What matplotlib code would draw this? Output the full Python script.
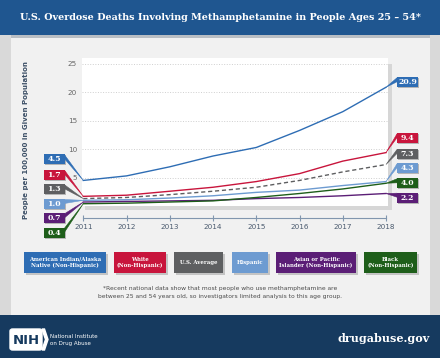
import matplotlib
matplotlib.use("Agg")
import matplotlib.pyplot as plt
from matplotlib.patches import Rectangle, Polygon, FancyBboxPatch

years = [2011, 2012, 2013, 2014, 2015, 2016, 2017, 2018]
aian = [4.5, 5.3, 6.9, 8.8, 10.3, 13.3, 16.6, 20.9]
white = [1.7, 1.9, 2.6, 3.3, 4.3, 5.7, 7.9, 9.4]
us_avg = [1.3, 1.5, 2.0, 2.6, 3.3, 4.5, 6.0, 7.3]
hispanic = [1.0, 1.1, 1.4, 1.8, 2.4, 2.8, 3.6, 4.3]
asian = [0.7, 0.8, 0.9, 1.0, 1.3, 1.5, 1.8, 2.2]
black = [0.4, 0.5, 0.7, 0.9, 1.5, 2.2, 3.0, 4.0]

names = ["American Indian/Alaska\nNative (Non-Hispanic)", "White\n(Non-Hispanic)", "U.S. Average",
         "Hispanic", "Asian or Pacific\nIslander (Non-Hispanic)", "Black\n(Non-Hispanic)"]
series = [aian, white, us_avg, hispanic, asian, black]
colors = ["#2e6db4", "#c8153c", "#5e5f61", "#6d9bd1", "#5b1e76", "#1e5e1a"]

W, H = 440, 358
fig = plt.figure(figsize=(W / 100, H / 100), dpi=100)


def rect(x0, y0, x1, y1, color, z=-2):
    fig.patches.append(Rectangle((x0 / W, 1 - y1 / H), (x1 - x0) / W, (y1 - y0) / H,
                                 transform=fig.transFigure, color=color, zorder=z, lw=0))


def text(x, y, s, **kw):
    fig.text(x / W, 1 - y / H, s, zorder=5, **kw)


# background pieces
rect(0, 0, W, H, "#d9d9d9", -3)
rect(11, 35, 430, 315, "#f1f1f1")
rect(11, 35, 430, 37.5, "#b9bec4")
rect(0, 0, W, 35, "#1f5690")
rect(0, 315, W, H, "#163a5f")
rect(85, 64, 392, 210, "#d6d6d6", -1)

text(220, 17, "U.S. Overdose Deaths Involving Methamphetamine in People Ages 25 \u2013 54*",
     color="white", fontsize=6.9, family="DejaVu Serif", weight="bold", ha="center", va="center")

# main plot
ax = fig.add_axes([82 / W, 1 - 206 / H, (388 - 82) / W, (206 - 58) / H])
ax.set_facecolor("white")
for i, vals in enumerate(series):
    if i == 2:
        ax.plot(years, vals, color=colors[i], lw=1.0, ls="--", dashes=(3, 2), clip_on=False, zorder=3)
    else:
        ax.plot(years, vals, color=colors[i], lw=1.0, clip_on=False, zorder=3)
ax.set_xlim(2011 - 1.3 / 43.24, 2018 + 2 / 43.24)
ax.set_ylim(0, 26.05)
ax.set_yticks([5, 10, 15, 20, 25])
ax.set_xticks(years)
ax.grid(axis="y", color="#cfcfcf", ls=":", lw=0.7)
for s in ["left", "top", "right"]:
    ax.spines[s].set_visible(False)
ax.spines["bottom"].set_position(("outward", 12 * 0.72))
ax.spines["bottom"].set_bounds(2011, 2018)
ax.spines["bottom"].set_color("#8196ae")
ax.tick_params(axis="x", direction="inout", length=5, width=0.8, color="#8196ae",
               labelsize=5.2, labelcolor="#4a5a6e", pad=1.5)
ax.tick_params(axis="y", length=0, labelsize=5.2, labelcolor="#666666", pad=3.6)

text(26, 140, "People per 100,000 in Given Population", rotation=90, fontsize=5, color="#3c4f66",
     weight="bold", ha="center", va="center")

# value call-outs
fig.canvas.draw()
left_y = [159.3, 174.7, 189.3, 204, 218.3, 232.7]
right_y = [82.3, 138.3, 154, 168.3, 197.7, 183.3]
bw, bh = 21, 10
for i, vals in enumerate(series):
    for side, yc, idx in [("l", left_y[i], 0), ("r", right_y[i], -1)]:
        px, py = ax.transData.transform((years[idx], vals[idx]))
        py = H - py
        if side == "l":
            x0, edge = 43.5, 43.5 + bw
        else:
            x0, edge = 397, 397
        y0 = yc - bh / 2
        rect(x0 + 1, y0 + 1, x0 + bw + 1, y0 + bh + 1, "#b5b5b5", 2)
        tail = Polygon([(edge / W, 1 - (y0 + 0.5) / H), (edge / W, 1 - (y0 + bh * 0.45) / H),
                        (px / W, 1 - py / H)], closed=True, transform=fig.transFigure,
                       color=colors[i], lw=0.4, zorder=3)
        fig.patches.append(tail)
        rect(x0, y0, x0 + bw, y0 + bh, colors[i], 3)
        text(x0 + bw / 2, yc, f"{vals[idx]:.1f}", color="white", fontsize=5.6, family="DejaVu Serif",
             weight="bold", ha="center", va="center")

# legend boxes
leg_x = [(24, 106), (114, 166), (174, 223), (232, 268), (276, 356), (364, 417)]
for i, name in enumerate(names):
    x0, x1 = leg_x[i]
    rect(x0 + 1.5, 253.5, x1 + 1.5, 274.5, "#c4c4c4", -1)
    rect(x0, 252, x1, 273, colors[i], 0)
    text((x0 + x1) / 2, 262.5, name, color="white", fontsize=3.9, family="DejaVu Serif",
         weight="bold", ha="center", va="center", linespacing=1.35)

text(220, 292.5, "*Recent national data show that most people who use methamphetamine are\n"
     "between 25 and 54 years old, so investigators limited analysis to this age group.",
     fontsize=4.3, color="#4a4a4a", ha="center", va="center", linespacing=1.6)

# footer
fig.patches.append(FancyBboxPatch((10 / W, 1 - 350 / H), 32 / W, 21 / H,
                                  boxstyle="round,pad=0,rounding_size=0.006",
                                  transform=fig.transFigure, color="white", zorder=1))
fig.patches.append(Polygon([(42 / W, 1 - 329 / H), (44.5 / W, 1 - 329 / H), (48 / W, 1 - 339.5 / H),
                            (44.5 / W, 1 - 350 / H), (42 / W, 1 - 350 / H), (45.5 / W, 1 - 339.5 / H)],
                           transform=fig.transFigure, color="white", zorder=1))
text(26, 340, "NIH", color="#163a5f", fontsize=9.5, weight="bold", ha="center", va="center")
text(50, 340, "National Institute\non Drug Abuse", color="white", fontsize=4, ha="left", va="center",
     linespacing=1.5)
text(430, 339, "drugabuse.gov", color="white", fontsize=8, family="DejaVu Serif", weight="bold",
     ha="right", va="center")

fig.savefig("out.png", dpi=100)
